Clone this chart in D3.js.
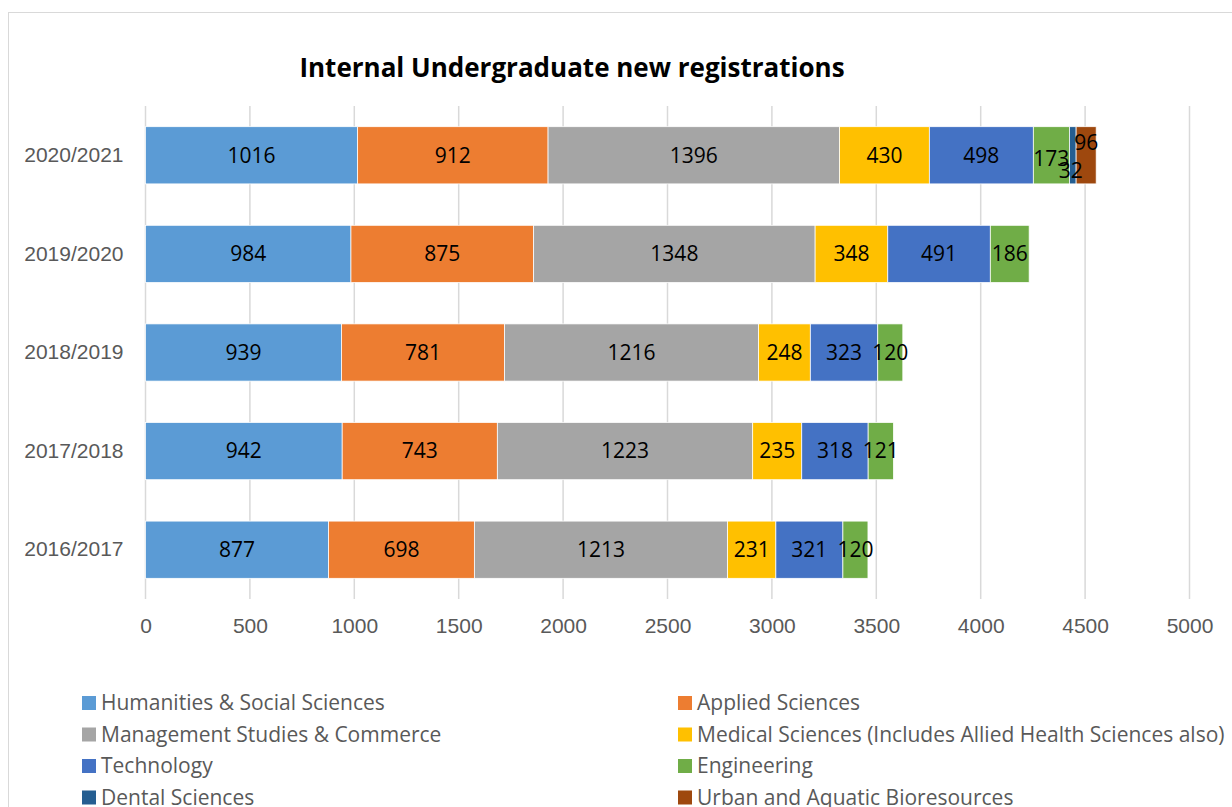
<!DOCTYPE html>
<html>
<head>
<meta charset="utf-8">
<script src="https://cdn.jsdelivr.net/npm/d3@7"></script>
<style>
  body { margin: 0; background: #fff; }
  svg { font-family: "Open Sans", sans-serif; }
</style>
</head>
<body>
<svg width="1232" height="807"></svg>
<script>
// chart data
var years = ["2020/2021", "2019/2020", "2018/2019", "2017/2018", "2016/2017"];
var faculties = [
  "Humanities & Social Sciences",
  "Applied Sciences",
  "Management Studies & Commerce",
  "Medical Sciences (Includes Allied Health Sciences also)",
  "Technology",
  "Engineering",
  "Dental Sciences",
  "Urban and Aquatic Bioresources"
];
var humanities = [1016, 984, 939, 942, 877];
var applied    = [912, 875, 781, 743, 698];
var management = [1396, 1348, 1216, 1223, 1213];
var medical    = [430, 348, 248, 235, 231];
var technology = [498, 491, 323, 318, 321];
var engineering = [173, 186, 120, 121, 120];
var dental     = [32, 0, 0, 0, 0];
var urban      = [96, 0, 0, 0, 0];
var xTicks = [0, 500, 1000, 1500, 2000, 2500, 3000, 3500, 4000, 4500, 5000];

var colors = ["#5B9BD5", "#ED7D31", "#A5A5A5", "#FFC000", "#4472C4", "#70AD47", "#255E91", "#9E480E"];

var svg = d3.select("svg");
var margin = {left: 145.5, right: 1189.5, top: 106, bottom: 599};
var fontSize = 21;

// outer chart border (right and bottom fall off the picture)
svg.append("rect")
  .attr("x", 8.5).attr("y", 12.5)
  .attr("width", 1260).attr("height", 830)
  .attr("fill", "none").attr("stroke", "#d9d9d9");

svg.append("text")
  .attr("x", 572).attr("y", 77)
  .attr("text-anchor", "middle")
  .attr("font-size", 26).attr("font-weight", "bold")
  .attr("fill", "#000")
  .text("Internal Undergraduate new registrations");

var x = d3.scaleLinear().domain([0, 5000]).range([margin.left, margin.right]);
var y = d3.scaleBand().domain(years).range([margin.top, margin.bottom]).paddingInner(0.42).paddingOuter(0.21);

// gridlines
svg.append("g").selectAll("line")
  .data(xTicks).enter().append("line")
  .attr("x1", function(d) { return x(d); })
  .attr("x2", function(d) { return x(d); })
  .attr("y1", margin.top).attr("y2", margin.bottom)
  .attr("stroke", "#d9d9d9").attr("stroke-width", 1.5);

// x axis labels
var xAxis = svg.append("g")
  .attr("transform", "translate(0," + margin.bottom + ")")
  .call(d3.axisBottom(x).tickValues(xTicks).tickSize(0).tickPadding(19).tickFormat(d3.format("d")));
xAxis.select(".domain").remove();
xAxis.selectAll("text").attr("font-size", fontSize).attr("fill", "#595959").attr("font-family", null);

// y axis labels
var yAxis = svg.append("g")
  .attr("transform", "translate(" + (margin.left - 22) + ",0)")
  .call(d3.axisLeft(y).tickSize(0).tickPadding(0));
yAxis.select(".domain").remove();
yAxis.selectAll("text").attr("font-size", fontSize).attr("fill", "#595959").attr("font-family", null);

// stack
var series = [humanities, applied, management, medical, technology, engineering, dental, urban];
var table = years.map(function(yr, i) {
  var row = {year: yr};
  faculties.forEach(function(f, j) { row[f] = series[j][i]; });
  return row;
});
var stacked = d3.stack().keys(faculties)(table);

// nudges for the crowded labels at the end of the top bar
var labelDy = {"Engineering": 3, "Dental Sciences": 15, "Urban and Aquatic Bioresources": -13};
var labelDx = {"Dental Sciences": -2};

svg.append("g").selectAll("g")
  .data(stacked).enter().append("g")
  .attr("fill", function(d, i) { return colors[i]; })
  .selectAll("rect")
  .data(function(d) { return d.filter(function(s) { return s[1] - s[0] > 0; }); })
  .enter().append("rect")
  .attr("x", function(d) { return x(d[0]); })
  .attr("width", function(d) { return x(d[1]) - x(d[0]); })
  .attr("y", function(d) { return y(d.data.year); })
  .attr("height", y.bandwidth())
  .attr("stroke", "#fff").attr("stroke-width", 0.75);

// data labels on top of all bars
var labels = svg.append("g");
stacked.forEach(function(s) {
  var key = s.key;
  var small = key === "Engineering";
  labels.selectAll("text.s" + s.index)
    .data(s.filter(function(d) { return d[1] - d[0] > 0; }))
    .enter().append("text")
    .attr("class", "s" + s.index)
    .attr("x", function(d) { return (x(d[0]) + x(d[1])) / 2 + (labelDx[key] || 0); })
    .attr("y", function(d) {
      var dy = d.data.year === years[0] ? (labelDy[key] || 0) : 0;
      return y(d.data.year) + y.bandwidth() / 2 + dy;
    })
    .attr("dy", "0.35em")
    .attr("text-anchor", "middle")
    .attr("font-size", fontSize)
    .attr("fill", "#000")
    .text(function(d) { return d[1] - d[0]; });
});

// legend, two columns
var legend = svg.append("g").selectAll("g")
  .data(faculties).enter().append("g")
  .attr("transform", function(d, i) {
    return "translate(" + (i % 2 === 0 ? 82 : 678) + "," + (703 + Math.floor(i / 2) * 31.5) + ")";
  });
legend.append("rect")
  .attr("x", 0).attr("y", -7).attr("width", 14).attr("height", 14)
  .attr("fill", function(d, i) { return colors[i]; });
legend.append("text")
  .attr("x", 19).attr("y", 0).attr("dy", "0.35em")
  .attr("font-size", fontSize).attr("fill", "#595959")
  .text(function(d) { return d; });
</script>
</body>
</html>
